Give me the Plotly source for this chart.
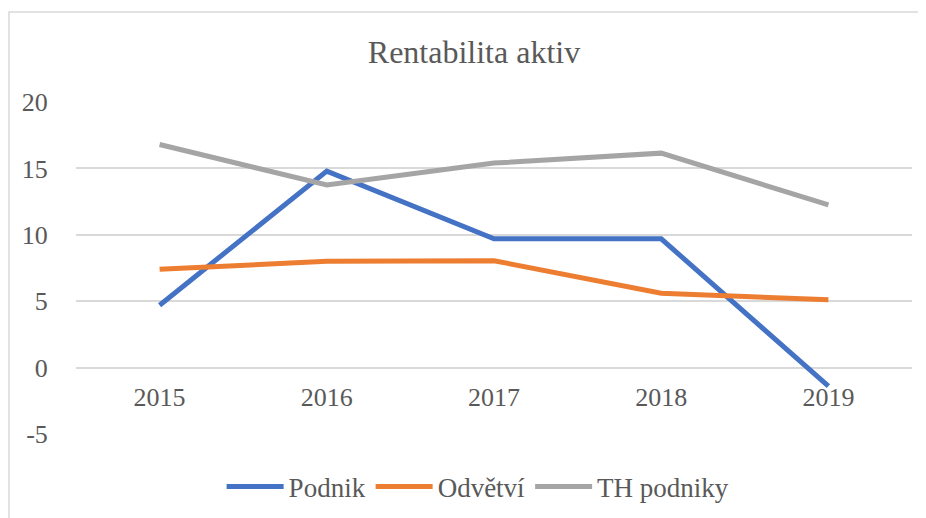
import plotly.graph_objects as go

years = ["2015", "2016", "2017", "2018", "2019"]
podnik = [4.7, 14.8, 9.7, 9.7, -1.4]
odvetvi = [7.4, 8.0, 8.05, 5.6, 5.1]
th_podniky = [16.8, 13.75, 15.4, 16.15, 12.25]

series = [
    ("Podnik", podnik, "#4472C4"),
    ("Odvětví", odvetvi, "#ED7D31"),
    ("TH podniky", th_podniky, "#A5A5A5"),
]

FONT = "Liberation Serif"
TXT = "#595959"

fig = go.Figure()
for name, vals, col in series:
    fig.add_trace(go.Scatter(
        x=years, y=vals, name=name, mode="lines",
        line=dict(color=col, width=5, shape="linear"),
    ))

fig.update_layout(
    width=926, height=518,
    margin=dict(l=68, r=22, t=94, b=92, autoexpand=False),
    paper_bgcolor="white", plot_bgcolor="white",
    font=dict(family=FONT, color=TXT, size=26),
    title=dict(text="Rentabilita aktiv", x=466 / 926, xref="container", xanchor="center",
               y=1 - 44 / 518, yref="container", yanchor="middle",
               font=dict(family=FONT, size=32, color=TXT)),
    showlegend=True,
    legend=dict(orientation="h", x=0.481, xanchor="center", y=1 - 479 / 518, yref="container",
                yanchor="middle",
                font=dict(family=FONT, size=27, color=TXT), itemwidth=57,
                bgcolor="rgba(0,0,0,0)"),
    xaxis=dict(type="category", range=[-0.5, 4.5], showgrid=False, zeroline=False,
               showline=False, anchor="free", position=0.2, automargin=False,
               ticks="outside", ticklen=6, tickcolor="rgba(0,0,0,0)",
               tickfont=dict(family=FONT, size=26, color=TXT)),
    yaxis=dict(range=[-5, 20], tickvals=[-5, 0, 5, 10, 15, 20], ticktext=["-5", "0", "5", "10", "15", "20"],
               showgrid=True, gridcolor="#D9D9D9", gridwidth=1.5, zeroline=False, automargin=False,
               showline=False, ticks="outside", ticklen=22, tickcolor="rgba(0,0,0,0)",
               tickfont=dict(family=FONT, size=26, color=TXT)),
)

fig.add_shape(type="rect", xref="paper", yref="paper",
              x0=(1 - 68) / 836, x1=1.1, y0=-0.4, y1=(426 - 4) / 332,
              line=dict(color="#D9D9D9", width=1.5), fillcolor="rgba(0,0,0,0)", layer="below")

fig.write_html("out.html")
